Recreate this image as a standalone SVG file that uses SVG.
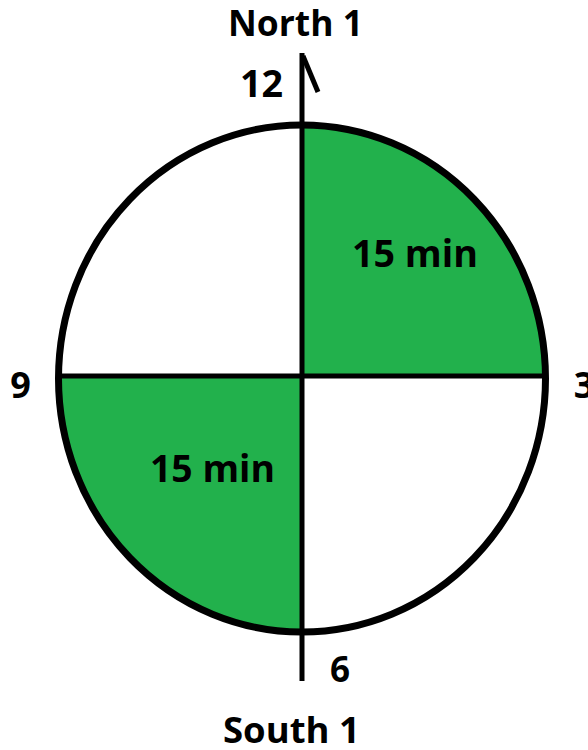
<svg xmlns="http://www.w3.org/2000/svg" width="588" height="750" viewBox="0 0 588 750">
<style>
.q{fill:#22B14C;stroke:none}
.ln{stroke:#000;stroke-width:5;fill:none}
.t{font-family:"Open Sans","Noto Sans",sans-serif;font-weight:bold;fill:#000}
</style>
<rect width="588" height="750" fill="#fff"/>
<g id="quadrant-ne"><path class="q" d="M302,377 L302,125 A243.5,253.5 0 0 1 545.5,377 Z"/><text class="t" x="415" y="267" font-size="38" text-anchor="middle" textLength="126" lengthAdjust="spacingAndGlyphs">15 min</text></g>
<g id="quadrant-sw"><path class="q" d="M302,377 L302,632 A243.5,253.5 0 0 1 58.5,377 Z"/><text class="t" x="212.5" y="482" font-size="38" text-anchor="middle" textLength="125" lengthAdjust="spacingAndGlyphs">15 min</text></g>
<g id="clock"><ellipse cx="302" cy="378.5" rx="243.5" ry="253.5" fill="none" stroke="#000" stroke-width="7"/></g>
<g id="connectors">
<line class="ln" x1="302" y1="53" x2="302" y2="681"/>
<line class="ln" x1="58" y1="376" x2="546" y2="376"/>
<line class="ln" x1="303" y1="56" x2="318" y2="92" stroke-width="4"/>
</g>
<g id="labels">
<text class="t" x="295.5" y="36" font-size="36" text-anchor="middle" textLength="135" lengthAdjust="spacingAndGlyphs">North 1</text>
<text class="t" x="261.5" y="97" font-size="37" text-anchor="middle" textLength="43" lengthAdjust="spacingAndGlyphs">12</text>
<text class="t" x="20.5" y="398" font-size="36" text-anchor="middle">9</text>
<text class="t" x="584" y="398" font-size="36" text-anchor="middle">3</text>
<text class="t" x="340" y="682" font-size="35" text-anchor="middle">6</text>
<text class="t" x="291.5" y="743" font-size="36" text-anchor="middle" textLength="137" lengthAdjust="spacingAndGlyphs">South 1</text>
</g>
</svg>
